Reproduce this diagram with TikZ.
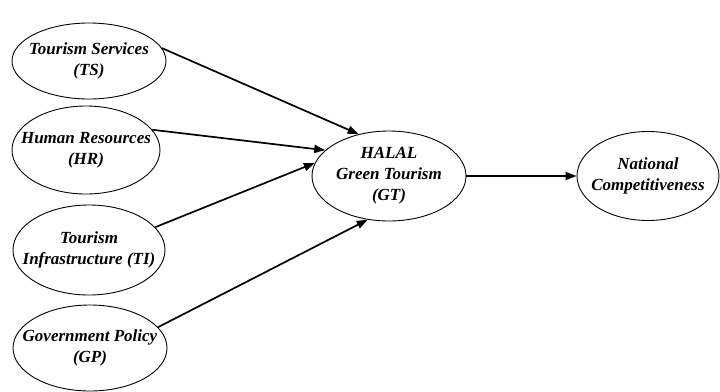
\documentclass[tikz,border=0pt]{standalone}
\usepackage{fontspec}
\setmainfont{Liberation Serif}
\usetikzlibrary{shapes.geometric,arrows.meta}
\begin{document}
\begin{tikzpicture}[x=1pt,y=-1pt,
  var/.style={ellipse,draw,line width=0.9pt,inner sep=0pt},
  txt/.style={align=center,inner sep=0pt,
    font=\fontsize{17}{21}\selectfont\bfseries\itshape},
  link/.style={line width=1.7pt,-{Triangle[length=11pt,width=8pt]}}]
\useasboundingbox (0,0) rectangle (720,391);
\node[var,minimum width=154pt,minimum height=76pt,label={[txt]center:Tourism Services\\(TS)}] (TS) at (89,61) {};
\node[var,minimum width=148pt,minimum height=88pt,label={[txt]center:Human Resources\\(HR)}] (HR) at (86,150) {};
\node[var,minimum width=152pt,minimum height=90pt,label={[txt]center:Tourism\\Infrastructure (TI)}] (TI) at (89,250) {};
\node[var,minimum width=154pt,minimum height=86pt,label={[txt]center:Government Policy\\(GP)}] (GP) at (90,348) {};
\node[var,minimum width=154pt,minimum height=90pt,label={[txt]center:HALAL\\Green Tourism\\(GT)}] (GT) at (389,176) {};
\node[var,minimum width=142pt,minimum height=89pt,label={[txt]center:National\\Competitiveness}] (NC) at (648,176) {};
\draw[link] (TS.10) -- (GT.126);
\draw[link] (HR.17) -- (GT.158);
\draw[link] (TI.19) -- (GT.170);
\draw[link] (GP.17) -- (GT.244);
\draw[link] (GT.east) -- (NC.west);
\end{tikzpicture}
\end{document}
